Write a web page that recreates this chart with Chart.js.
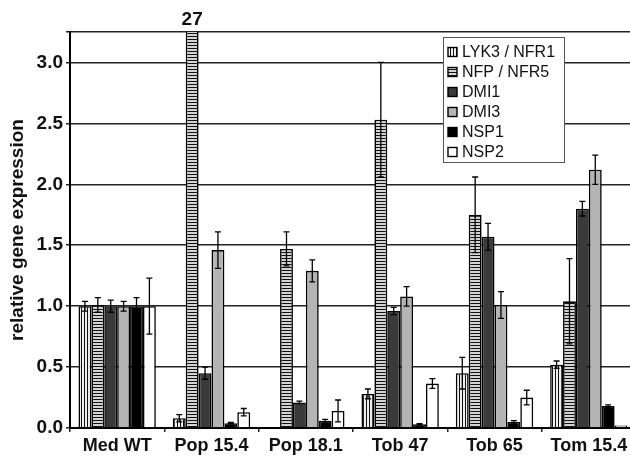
<!DOCTYPE html>
<html>
<head>
<meta charset="utf-8">
<script src="https://cdn.jsdelivr.net/npm/chart.js@4.4.1/dist/chart.umd.min.js"></script>
<style>
  html, body { margin: 0; padding: 0; background: #fff; overflow: hidden; }
  #wrap { width: 640px; height: 456px; }
</style>
</head>
<body>
<div id="wrap"><canvas id="expr" width="640" height="456"></canvas></div>
<script>
// values
const groups = ['Med WT', 'Pop 15.4', 'Pop 18.1', 'Tob 47', 'Tob 65', 'Tom 15.4'];
const genes = ['LYK3 / NFR1', 'NFP / NFR5', 'DMI1', 'DMI3', 'NSP1', 'NSP2'];

const lyk3 = [1.00, 0.08, 0.00, 0.28, 0.45, 0.52];
const lyk3Err = [0.04, 0.03, 0, 0.04, 0.13, 0.03];
const nfp = [1.01, 27, 1.47, 2.53, 1.75, 1.04];
const nfpErr = [0.06, 0, 0.14, 0.47, 0.31, 0.35];
const dmi1 = [1.00, 0.45, 0.21, 0.96, 1.57, 1.80];
const dmi1Err = [0.05, 0.05, 0.01, 0.03, 0.11, 0.06];
const dmi3 = [1.00, 1.46, 1.29, 1.08, 1.01, 2.12];
const dmi3Err = [0.04, 0.15, 0.09, 0.08, 0.11, 0.12];
const nsp1 = [1.00, 0.04, 0.06, 0.03, 0.05, 0.18];
const nsp1Err = [0.07, 0.005, 0.01, 0.005, 0.01, 0.01];
const nsp2 = [1.00, 0.13, 0.14, 0.365, 0.25, 0.02];
const nsp2Err = [0.23, 0.03, 0.09, 0.04, 0.06, 0];

const yTicks = [0, 0.5, 1, 1.5, 2, 2.5, 3];
const yMax = 3.25;

const FONT = '"Liberation Sans", Arial, sans-serif';

const canvas = document.getElementById('expr');
const ctx = canvas.getContext('2d');

// striped fills for the two receptor genes
function stripes(vertical, dark, light) {
  const c = document.createElement('canvas');
  c.width = 3; c.height = 3;
  const g = c.getContext('2d');
  g.fillStyle = light; g.fillRect(0, 0, 3, 3);
  g.fillStyle = dark;
  if (vertical) g.fillRect(0, 0, 1, 3); else g.fillRect(0, 0, 3, 1);
  return ctx.createPattern(c, 'repeat');
}

const fills = [
  stripes(true, '#111', '#eeeeee'),
  stripes(false, '#111', '#d4d4d4'),
  '#3a3a3a',
  '#b4b4b4',
  '#000000',
  '#ffffff'
];
const values = [lyk3, nfp, dmi1, dmi3, nsp1, nsp2];
const errs = [lyk3Err, nfpErr, dmi1Err, dmi3Err, nsp1Err, nsp2Err];

const datasets = genes.map((g, i) => ({
  label: g,
  data: values[i],
  errors: errs[i],
  backgroundColor: fills[i],
  borderColor: '#000',
  borderWidth: 1.6,
  categoryPercentage: 0.82,
  barPercentage: 1.0
}));

// error bars, drawn through the y scale
const errorBars = {
  id: 'errorBars',
  afterDatasetsDraw(chart) {
    const { ctx, chartArea, scales: { y } } = chart;
    ctx.save();
    ctx.beginPath();
    ctx.rect(chartArea.left, chartArea.top, chartArea.width, chartArea.height);
    ctx.clip();
    ctx.strokeStyle = '#000';
    ctx.lineWidth = 1.3;
    chart.data.datasets.forEach((ds, i) => {
      chart.getDatasetMeta(i).data.forEach((bar, j) => {
        const e = ds.errors[j];
        if (!e) return;
        const v = ds.data[j];
        const top = y.getPixelForValue(v + e);
        const bot = y.getPixelForValue(Math.max(v - e, 0));
        ctx.beginPath();
        ctx.moveTo(bar.x, top); ctx.lineTo(bar.x, bot);
        ctx.moveTo(bar.x - 3, top); ctx.lineTo(bar.x + 3, top);
        ctx.moveTo(bar.x - 3, bot); ctx.lineTo(bar.x + 3, bot);
        ctx.stroke();
      });
    });
    ctx.restore();
  }
};

// value label for bars that run off the top
const offScale = {
  id: 'offScale',
  afterDraw(chart) {
    const { ctx, chartArea, scales: { y } } = chart;
    ctx.save();
    ctx.font = 'bold 19px ' + FONT;
    ctx.fillStyle = '#111';
    ctx.textAlign = 'center';
    ctx.textBaseline = 'bottom';
    chart.data.datasets.forEach((ds, i) => {
      chart.getDatasetMeta(i).data.forEach((bar, j) => {
        if (ds.data[j] > y.max) ctx.fillText(String(ds.data[j]), bar.x, chartArea.top - 3);
      });
    });
    ctx.restore();
  }
};

// boxed legend inside the plot, upper right
const boxLegend = {
  id: 'boxLegend',
  afterDraw(chart) {
    const { ctx } = chart;
    const x0 = 443, y0 = 37, w = 121, h = 125;
    ctx.save();
    ctx.fillStyle = '#fff';
    ctx.fillRect(x0, y0, w, h);
    ctx.strokeStyle = '#555';
    ctx.lineWidth = 1;
    ctx.strokeRect(x0 + 0.5, y0 + 0.5, w, h);
    ctx.font = '16px ' + FONT;
    ctx.textBaseline = 'middle';
    chart.data.datasets.forEach((ds, i) => {
      const cy = y0 + 15 + i * 20;
      ctx.fillStyle = ds.backgroundColor;
      ctx.fillRect(x0 + 5, cy - 4.5, 9, 9);
      ctx.strokeStyle = '#000';
      ctx.lineWidth = 1.4;
      ctx.strokeRect(x0 + 5, cy - 4.5, 9, 9);
      ctx.fillStyle = '#111';
      ctx.fillText(ds.label, x0 + 19, cy + 1);
    });
    ctx.restore();
  }
};

new Chart(ctx, {
  type: 'bar',
  data: { labels: groups, datasets: datasets },
  options: {
    responsive: false,
    animation: false,
    layout: { padding: { top: 32, right: 4, left: 0, bottom: 0 } },
    plugins: { legend: { display: false }, tooltip: { enabled: false } },
    scales: {
      x: {
        afterFit: s => { s.height = 28; },
        ticks: { color: '#111', font: { size: 18, weight: 'bold', family: FONT }, padding: 3, maxRotation: 0, autoSkip: false },
        grid: { offset: true, drawOnChartArea: false, tickLength: 4, color: '#222', lineWidth: 1.5 },
        border: { color: '#000', width: 2 }
      },
      y: {
        min: 0,
        max: yMax,
        afterBuildTicks: s => { s.ticks = yTicks.concat([yMax]).map(v => ({ value: v })); },
        afterFit: s => { s.width = 70; },
        ticks: {
          color: '#111',
          font: { size: 19, weight: 'bold', family: FONT },
          padding: 3,
          callback: v => yTicks.includes(v) ? v.toFixed(1) : ''
        },
        grid: { color: '#222', lineWidth: 1.5, tickLength: 4, tickColor: '#222' },
        border: { color: '#000', width: 2 },
        title: {
          display: true,
          text: 'relative gene expression',
          color: '#111',
          font: { size: 19, weight: 'bold', family: FONT },
          padding: { top: 6, bottom: 0 }
        }
      }
    }
  },
  plugins: [errorBars, offScale, boxLegend]
});
</script>
</body>
</html>
